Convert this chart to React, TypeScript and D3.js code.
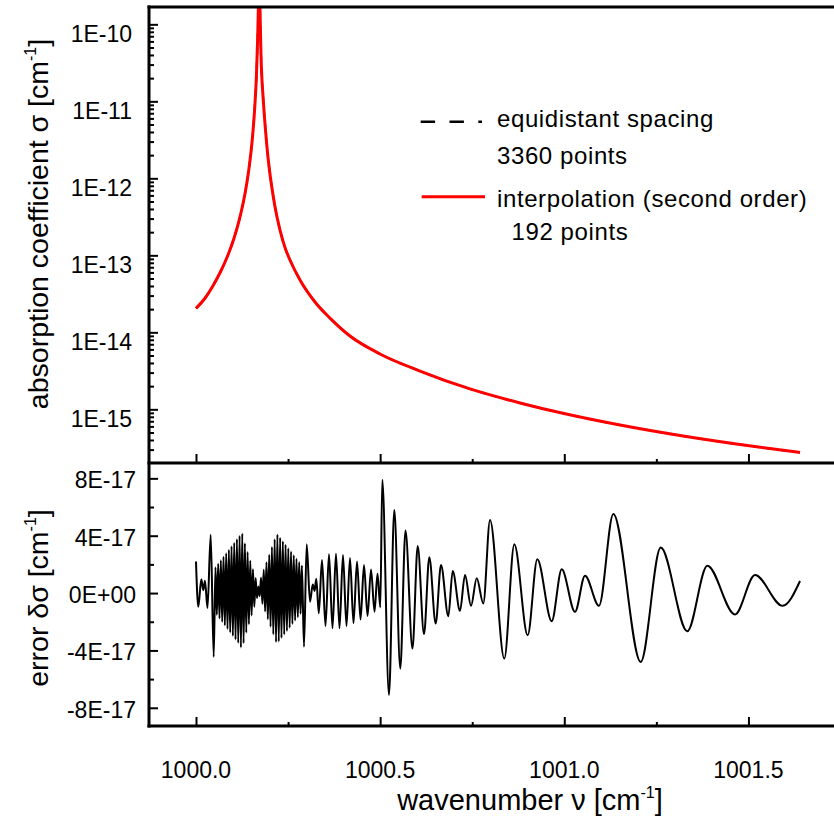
import { useEffect, useRef } from 'react'
import * as d3 from 'd3'

const W = 834
const H = 822
const FONT = '"Liberation Sans", Arial, Helvetica, sans-serif'

// upper panel: absorption coefficient (cm^-1)
const sigmaNu = [
  1000.0, 1000.0244, 1000.0462, 1000.0679, 1000.0869, 1000.1032, 1000.1168, 1000.1276, 1000.1385,
  1000.1466, 1000.1548, 1000.1602, 1000.1643, 1000.1675, 1000.1692, 1000.1716, 1000.1738, 1000.1765,
  1000.1827, 1000.1887, 1000.1963, 1000.205, 1000.2145, 1000.2281, 1000.2417, 1000.2552, 1000.2824,
  1000.3231, 1000.3638, 1000.4181, 1000.4996, 1000.6082, 1000.744, 1000.8797, 1000.9992, 1001.1512,
  1001.3141, 1001.4771, 1001.64,
]
const sigmaVal = [
  2.05e-14, 2.77e-14, 4.03e-14, 6.31e-14, 1.01e-13, 1.67e-13, 2.81e-13, 4.68e-13, 8.95e-13, 1.7e-12,
  4.07e-12, 9.36e-12, 2.3e-11, 6.76e-11, 1.53e-10, 5.07e-10, 1.53e-10, 3.99e-11, 1.04e-11, 4.24e-12,
  1.73e-12, 8.18e-13, 4.28e-13, 2.13e-13, 1.26e-13, 8.69e-14, 4.78e-14, 2.48e-14, 1.53e-14, 8.95e-15,
  5.23e-15, 3.14e-15, 1.84e-15, 1.21e-15, 8.81e-16, 6.25e-16, 4.57e-16, 3.49e-16, 2.75e-16,
]

// lower panel: error extrema, [wavenumber, error in 1E-17 cm^-1]
const errStart = [
  [1000.0, 2.2], [1000.0062, -0.96], [1000.0144, 0.96], [1000.0198, 0.2], [1000.0244, 0.86],
  [1000.0312, -1.05], [1000.0399, 4.06], [1000.0481, -4.45],
]
const errPacketLeft = [
  [1000.0529, 1.8], [1000.0566, -1.52], [1000.0602, 2.05], [1000.0638, -1.77], [1000.0675, 2.29],
  [1000.0711, -2.01], [1000.0747, 2.53], [1000.0784, -2.26], [1000.082, 2.78], [1000.0856, -2.5],
  [1000.0893, 3.02], [1000.0929, -2.75], [1000.0965, 3.27], [1000.1002, -2.99], [1000.1038, 3.51],
  [1000.1074, -3.24], [1000.1111, 3.76], [1000.1147, -3.48], [1000.1183, 4.0], [1000.122, -3.8],
  [1000.1256, 4.15], [1000.1292, -3.5], [1000.1328, 3.47], [1000.1365, -2.77], [1000.1401, 2.87],
  [1000.1437, -2.17], [1000.1474, 2.26], [1000.151, -1.56], [1000.1546, 1.66], [1000.1583, -0.96],
  [1000.1619, 1.05], [1000.1655, -0.35], [1000.1692, 0.45],
]
const errPacketRight = [
  [1000.1729, -0.22], [1000.1766, 1.08], [1000.1803, -0.75], [1000.184, 1.62], [1000.1877, -1.28],
  [1000.1914, 2.15], [1000.1951, -1.82], [1000.1988, 2.68], [1000.2025, -2.35], [1000.2062, 3.22],
  [1000.2099, -2.88], [1000.2136, 3.75], [1000.2173, -3.42], [1000.221, 4.09], [1000.2247, -3.37],
  [1000.2284, 3.85], [1000.2321, -3.13], [1000.2358, 3.61], [1000.2395, -2.89], [1000.2432, 3.37],
  [1000.2469, -2.65], [1000.2506, 3.13], [1000.2543, -2.41], [1000.258, 2.89], [1000.2617, -2.16],
  [1000.2654, 2.64], [1000.2691, -1.92], [1000.2728, 2.4], [1000.2765, -1.68], [1000.2802, 2.16],
  [1000.2839, -1.44], [1000.2876, 1.92], [1000.2932, -3.75],
]
const errComb = [
  [1000.3006, 3.4], [1000.3095, -0.6], [1000.3171, 0.6], [1000.322, 0.15], [1000.3266, 1.0],
  [1000.3334, -1.4], [1000.3421, 2.3], [1000.3516, -2.3], [1000.3611, 2.7], [1000.3706, -2.45],
  [1000.3801, 2.75], [1000.3896, -2.45], [1000.3991, 2.65], [1000.4086, -2.3], [1000.4181, 2.45],
  [1000.4276, -2.1], [1000.4372, 2.2], [1000.4467, -1.85], [1000.4562, 1.95], [1000.4657, -1.6],
  [1000.4752, 1.65], [1000.4847, -1.3], [1000.4928, 1.35], [1000.5004, -1.0],
]
const errTail = [
  [1000.5058, 7.9], [1000.524, -7.1], [1000.5384, 5.8], [1000.5547, -5.27], [1000.5688, 4.36],
  [1000.5878, -3.87], [1000.602, 3.29], [1000.6191, -2.87], [1000.6335, 2.5], [1000.6508, -2.12],
  [1000.6652, 1.96], [1000.6851, -1.61], [1000.697, 1.54], [1000.7168, -1.24], [1000.7304, 1.26],
  [1000.7467, -0.89], [1000.7622, 1.03], [1000.7801, -0.72], [1000.7983, 5.1], [1000.8371, -4.57],
  [1000.8643, 3.4], [1000.9006, -2.94], [1000.9267, 2.36], [1000.9658, -1.96], [1000.993, 1.66],
  [1001.0291, -1.31], [1001.0562, 1.21], [1001.0942, -0.89], [1001.1331, 5.52], [1001.2075, -4.8],
  [1001.2618, 3.17], [1001.334, -2.66], [1001.3883, 1.91], [1001.4635, -1.49], [1001.5178, 1.26],
  [1001.593, -0.89], [1001.64, 0.84],
]

// ticks
const nuTicks = [1000.0, 1000.5, 1001.0, 1001.5]
const nuTickLabels = ['1000.0', '1000.5', '1001.0', '1001.5']
const nuMinorTicks = [1000.25, 1000.75, 1001.25]
const sigmaTicks = [1e-15, 1e-14, 1e-13, 1e-12, 1e-11, 1e-10]
const sigmaTickLabels = ['1E-15', '1E-14', '1E-13', '1E-12', '1E-11', '1E-10']
const errTicks = [-8, -4, 0, 4, 8]
const errTickLabels = ['-8E-17', '-4E-17', '0E+00', '4E-17', '8E-17']
const errMinorTicks = [-6, -2, 2, 6]

export default function App() {
  const svgRef = useRef<SVGSVGElement>(null)

  useEffect(() => {
    if (!svgRef.current) return
    const svg = d3.select(svgRef.current)
    svg.selectAll('*').remove()

    const left = 149
    const right = W
    const top = 7
    const mid = 463
    const bottom = 726

    const x = d3.scaleLinear().domain([999.8724, 1001.7323]).range([left, right])
    const ySig = d3.scaleLog().domain([10 ** -15.697, 10 ** -9.775]).range([mid, top])
    const yErr = d3.scaleLinear().domain([-9.27, 9.07]).range([bottom, mid])

    const defs = svg.append('defs')
    defs.append('clipPath').attr('id', 'clipTop')
      .append('rect').attr('x', left).attr('y', top).attr('width', right - left).attr('height', mid - top)
    defs.append('clipPath').attr('id', 'clipBot')
      .append('rect').attr('x', left).attr('y', mid).attr('width', right - left).attr('height', bottom - mid)

    svg.append('rect').attr('width', W).attr('height', H).attr('fill', '#fff')

    // upper curves
    const sigmaData = sigmaNu.map((n, i) => [n, sigmaVal[i]])
    const sigLine = d3.line<number[]>()
      .x((d) => x(d[0]))
      .y((d) => ySig(d[1]))
      .curve(d3.curveMonotoneX)
    const gTop = svg.append('g').attr('clip-path', 'url(#clipTop)')
    gTop.append('path').attr('d', sigLine(sigmaData)).attr('fill', 'none')
      .attr('stroke', '#000').attr('stroke-width', 2).attr('stroke-dasharray', '7,7')
    gTop.append('path').attr('d', sigLine(sigmaData)).attr('fill', 'none')
      .attr('stroke', '#ff0000').attr('stroke-width', 3)

    // lower curve
    const errData = [...errStart, ...errPacketLeft, ...errPacketRight, ...errComb, ...errTail]
    const errLine = d3.line<number[]>()
      .x((d) => x(d[0]))
      .y((d) => yErr(d[1]))
      .curve(d3.curveMonotoneX)
    svg.append('g').attr('clip-path', 'url(#clipBot)')
      .append('path').attr('d', errLine(errData)).attr('fill', 'none')
      .attr('stroke', '#000').attr('stroke-width', 2).attr('stroke-linejoin', 'round')

    // ticks (pointing inwards)
    const tickAxis = (g: any, axis: any) => {
      g.call(axis)
      g.select('.domain').remove()
      g.selectAll('line').attr('stroke-width', 2)
      g.selectAll('text').remove()
    }
    const sigMinor = ySig.ticks().filter((t) => !sigmaTicks.some((m) => Math.abs(m - t) / m < 1e-6))
    tickAxis(svg.append('g').attr('transform', `translate(${left},0)`),
      d3.axisRight(ySig).tickValues(sigmaTicks).tickSize(9))
    tickAxis(svg.append('g').attr('transform', `translate(${left},0)`),
      d3.axisRight(ySig).tickValues(sigMinor).tickSize(5))
    tickAxis(svg.append('g').attr('transform', `translate(${left},0)`),
      d3.axisRight(yErr).tickValues(errTicks).tickSize(9))
    tickAxis(svg.append('g').attr('transform', `translate(${left},0)`),
      d3.axisRight(yErr).tickValues(errMinorTicks).tickSize(5))
    for (const yy of [mid, bottom]) {
      tickAxis(svg.append('g').attr('transform', `translate(0,${yy})`),
        d3.axisTop(x).tickValues(nuTicks).tickSize(9))
      tickAxis(svg.append('g').attr('transform', `translate(0,${yy})`),
        d3.axisTop(x).tickValues(nuMinorTicks).tickSize(4))
    }

    // frame
    const frame = svg.append('g').attr('stroke', '#000').attr('stroke-width', 3)
    frame.append('line').attr('x1', left).attr('x2', left).attr('y1', top - 1.5).attr('y2', bottom + 1.5)
    for (const yy of [top, mid, bottom]) {
      frame.append('line').attr('x1', left - 1.5).attr('x2', right).attr('y1', yy).attr('y2', yy)
    }

    // tick labels
    const labels = svg.append('g').attr('font-family', FONT).attr('font-size', 23).attr('fill', '#000')
    sigmaTicks.forEach((t, i) => {
      labels.append('text').attr('x', 132).attr('y', ySig(t) + 18)
        .attr('text-anchor', 'end').text(sigmaTickLabels[i])
    })
    errTicks.forEach((t, i) => {
      labels.append('text').attr('x', 136).attr('y', yErr(t) + 10)
        .attr('text-anchor', 'end').text(errTickLabels[i])
    })
    nuTicks.forEach((t, i) => {
      labels.append('text').attr('x', x(t)).attr('y', 778)
        .attr('text-anchor', 'middle').text(nuTickLabels[i])
    })

    // axis titles
    const title = (g: any, main: string) => {
      g.append('tspan').text(main)
      g.append('tspan').attr('font-size', 16).attr('dy', -12).text('-1')
      g.append('tspan').attr('dy', 12).text(']')
    }
    const tx = svg.append('text').attr('font-family', FONT).attr('font-size', 29)
      .attr('x', 530).attr('y', 810).attr('text-anchor', 'middle')
    title(tx, 'wavenumber \u03bd [cm')
    const ty1 = svg.append('text').attr('font-family', FONT).attr('font-size', 28.5)
      .attr('text-anchor', 'middle').attr('transform', 'translate(48,224) rotate(-90)')
    title(ty1, 'absorption coefficient \u03c3 [cm')
    const ty2 = svg.append('text').attr('font-family', FONT).attr('font-size', 28.5)
      .attr('text-anchor', 'middle').attr('transform', 'translate(48,598) rotate(-90)')
    title(ty2, 'error \u03b4\u03c3 [cm')

    // legend
    const lg = svg.append('g').attr('font-family', FONT).attr('font-size', 24).attr('letter-spacing', 0.6)
    lg.append('line').attr('x1', 420.7).attr('x2', 482).attr('y1', 121.7).attr('y2', 121.7)
      .attr('stroke', '#000').attr('stroke-width', 2.5).attr('stroke-dasharray', '14.4,14.4')
    lg.append('line').attr('x1', 421.7).attr('x2', 485).attr('y1', 196.7).attr('y2', 196.7)
      .attr('stroke', '#ff0000').attr('stroke-width', 3)
    lg.append('text').attr('x', 497).attr('y', 127).text('equidistant spacing')
    lg.append('text').attr('x', 497).attr('y', 164).text('3360 points')
    lg.append('text').attr('x', 497).attr('y', 207).text('interpolation (second order)')
    lg.append('text').attr('x', 511.5).attr('y', 240).text('192 points')
  }, [])

  return (
    <svg
      ref={svgRef}
      width={W}
      height={H}
      style={{ position: 'absolute', left: 0, top: 0, display: 'block' }}
    />
  )
}
